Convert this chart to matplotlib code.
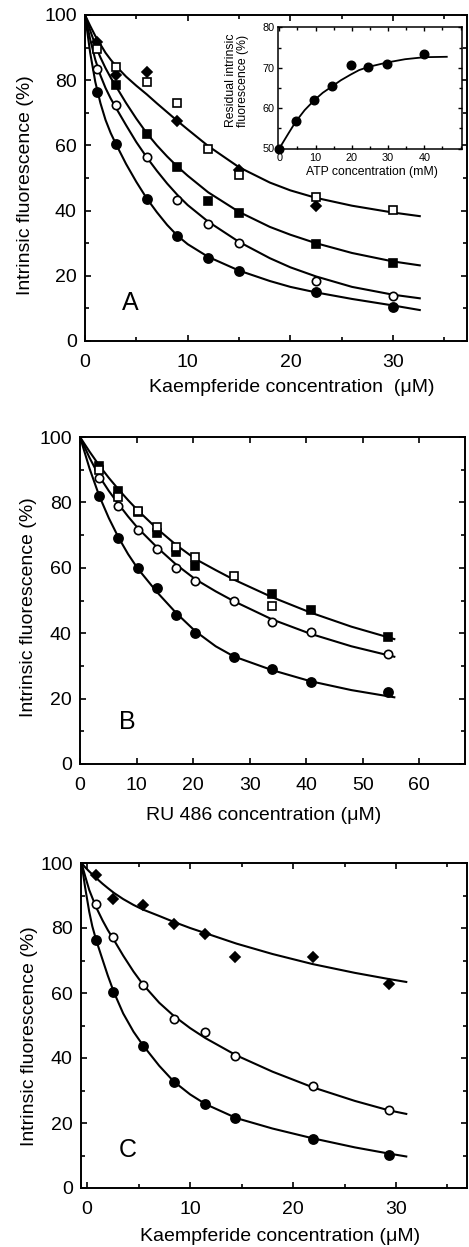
import matplotlib
matplotlib.use("Agg")
import matplotlib.pyplot as plt
from matplotlib.ticker import MultipleLocator

plt.rcParams['font.family'] = ['Liberation Sans', 'DejaVu Sans']

# ---------------- Panel A data ----------------
a_x = [1.2, 3, 6, 9, 12, 15, 22.5, 30]
a_filled_circle = [76.3, 60.4, 43.7, 32.1, 25.5, 21.5, 15.0, 10.4]
a_open_circle = [83.4, 72.5, 56.5, 43.4, 36.0, 30.2, 18.5, 13.8]
a_fs_x = [3, 6, 9, 12, 15, 22.5, 30]
a_filled_square = [78.5, 63.5, 53.4, 43.0, 39.3, 29.9, 23.8]
a_open_square = [89.6, 83.9, 79.6, 72.9, 58.9, 50.8, 44.3, 40.1]
a_dm_x = [1.2, 3, 6, 9, 15, 22.5]
a_diamond = [91.6, 81.7, 82.4, 67.4, 52.5, 41.4]

a_fit_x = [0, 0.5, 1, 1.5, 2, 2.5, 3, 4, 5, 6, 7, 8, 9, 10, 12, 15, 18, 20, 22.5, 26, 30, 32.6]
a_fit_top = [100, 96.7, 93.6, 91.0, 88.4, 86.3, 84.4, 81.1, 78.3, 75.7, 72.9, 70.2, 67.5, 64.9, 59.8, 53.3, 48.6, 46.2, 43.9, 41.5, 39.4, 38.3]
a_fit_fs = [100, 95.3, 90.8, 87.0, 83.7, 80.8, 78.2, 73.0, 68.2, 63.8, 60.0, 56.6, 53.5, 50.7, 45.6, 39.6, 35.0, 32.6, 30.0, 27.0, 24.4, 23.2]
a_fit_oc = [100, 92.6, 86.3, 81.5, 77.6, 74.4, 71.6, 66.2, 61.0, 56.4, 52.2, 48.3, 44.8, 41.7, 36.6, 30.4, 25.4, 22.6, 19.8, 16.6, 14.2, 13.1]
a_fit_fc = [100, 88.5, 79.5, 73.0, 67.8, 63.8, 60.5, 54.3, 48.8, 43.8, 39.5, 35.6, 32.3, 29.7, 25.8, 21.6, 18.4, 16.6, 14.9, 12.9, 10.9, 9.5]

# ---------------- Inset data ----------------
ins_x = [0, 4.5, 9.7, 14.6, 19.7, 24.6, 29.8, 40]
ins_y = [50, 56.7, 62.1, 65.4, 70.7, 70.1, 70.8, 73.3]
ins_fit_x = [0, 2.5, 4.5, 7, 9.7, 12, 14.6, 17, 19.7, 22, 24.6, 29.8, 34.7, 40, 46.2]
ins_fit_y = [50, 53.7, 56.6, 59.5, 62.0, 63.8, 65.4, 66.9, 68.3, 69.4, 70.2, 71.3, 72.1, 72.6, 72.7]

# ---------------- Panel B data ----------------
b_x = [3.4, 6.8, 10.2, 13.6, 17, 20.4, 27.2, 34, 40.8, 54.4]
b_filled_circle = [82.0, 69.0, 59.8, 53.8, 45.7, 40.1, 32.6, 29.1, 25.0, 22.0]
b_open_circle = [87.6, 78.9, 71.7, 65.8, 60.0, 56.0, 49.8, 43.3, 40.4, 33.5]
b_fs_x = [3.4, 6.8, 10.2, 13.6, 17, 20.4, 34, 40.8, 54.4]
b_filled_square = [91.1, 83.5, 77.0, 70.6, 64.7, 60.6, 52.0, 47.1, 38.9]
b_os_x = [3.4, 6.8, 10.2, 13.6, 17, 20.4, 27.2, 34]
b_open_square = [89.9, 81.7, 77.3, 72.6, 66.3, 63.3, 57.6, 48.4]

b_fit_x = [0, 1.7, 3.4, 5.1, 6.8, 8.5, 10.2, 13.6, 17, 20.4, 24, 27.2, 34, 40.8, 48, 55.6]
b_fit_top = [100, 95.5, 91.3, 87.5, 84.0, 80.7, 77.6, 72.0, 67.0, 62.7, 59.3, 56.4, 51.0, 46.3, 42.0, 38.2]
b_fit_mid = [100, 93.6, 88.0, 83.5, 79.5, 75.7, 72.2, 66.3, 61.0, 56.5, 52.8, 49.8, 44.2, 39.8, 36.0, 32.8]
b_fit_bot = [100, 90.3, 82.0, 75.2, 69.3, 64.2, 59.8, 52.6, 46.2, 40.6, 36.0, 32.9, 28.7, 25.3, 22.6, 20.4]

# ---------------- Panel C data ----------------
c_x = [0.9, 2.5, 5.4, 8.4, 11.4, 14.4, 21.9, 29.3]
c_diamond = [96.3, 88.9, 87.1, 81.3, 78.1, 71.2, 71.0, 62.7]
c_open_circle = [87.4, 77.1, 62.5, 52.1, 48.0, 40.7, 31.5, 23.9]
c_filled_circle = [76.4, 60.3, 43.8, 32.5, 25.7, 21.6, 15.1, 10.1]

c_fit_x = [-0.55, -0.2, 0.2, 0.5, 0.9, 1.5, 2, 2.6, 3.5, 4.5, 5.4, 7, 8.4, 10, 11.5, 14.5, 18, 21.9, 26, 29.3, 31]
c_fit_top = [100, 98.7, 97.4, 96.5, 95.3, 93.6, 92.3, 90.8, 88.9, 87.1, 85.7, 83.7, 81.9, 80.0, 78.4, 75.2, 72.0, 68.9, 66.2, 64.3, 63.4]
c_fit_mid = [100, 96.0, 91.7, 89.3, 86.2, 82.3, 79.4, 76.3, 71.5, 66.6, 62.7, 57.0, 53.0, 49.2, 46.1, 40.8, 35.8, 31.0, 26.8, 23.9, 22.8]
c_fit_bot = [100, 92.5, 85.0, 80.5, 76.0, 70.2, 65.4, 60.2, 53.7, 48.1, 44.0, 37.6, 32.8, 28.8, 25.8, 21.5, 18.3, 15.3, 12.5, 10.6, 9.7]

y_ticks = [0, 20, 40, 60, 80, 100]
ylab = "Intrinsic fluorescence (%)"

LW = 1.5
FS = 14

fig = plt.figure(figsize=(4.69, 12.47), dpi=100)
W, H = 469.0, 1247.0


def axes_px(l, r, t, b):
    return fig.add_axes([l / W, 1 - b / H, (r - l) / W, (b - t) / H])


def style(ax, xmaj, xmin_loc):
    ax.set_ylim(0, 100)
    ax.set_yticks(y_ticks)
    ax.yaxis.set_minor_locator(MultipleLocator(10))
    ax.xaxis.set_major_locator(MultipleLocator(xmaj))
    if xmin_loc:
        ax.xaxis.set_minor_locator(MultipleLocator(xmin_loc))
    ax.tick_params(which='both', direction='in', top=True, right=True, width=1.2)
    ax.tick_params(which='major', length=4.5, labelsize=FS)
    ax.tick_params(which='minor', length=3)
    ax.tick_params(axis='x', which='major', pad=9.5)
    ax.tick_params(axis='y', which='major', pad=6)
    for s in ax.spines.values():
        s.set_linewidth(1.4)


def mk(ax, x, y, marker, filled, ms, z=3):
    ax.plot(x, y, linestyle='none', marker=marker, ms=ms,
            mfc='black' if filled else 'white', mec='black', mew=1.2, zorder=z)


# ---------------- Panel A ----------------
axA = axes_px(85, 467, 15, 341)
for yv in (a_fit_top, a_fit_fs, a_fit_oc, a_fit_fc):
    axA.plot(a_fit_x, yv, color='black', lw=LW, zorder=2)
mk(axA, a_dm_x, a_diamond, 'D', True, 5.6)
mk(axA, a_x, a_open_square, 's', False, 6.0, 4)
mk(axA, a_fs_x, a_filled_square, 's', True, 6.0)
mk(axA, a_x, a_open_circle, 'o', False, 6.0)
mk(axA, a_x, a_filled_circle, 'o', True, 6.6)
axA.set_xlim(0, 37.2)
axA.set_xticks([0, 10, 20, 30])
style(axA, 10, 5)
axA.set_xlabel("Kaempferide concentration  (μM)", fontsize=FS)
axA.set_ylabel(ylab, fontsize=FS)
axA.xaxis.set_label_coords(0.54, -0.144)
axA.xaxis.label.set_va('center')
axA.yaxis.set_label_coords(-0.1545, 0.479)
axA.yaxis.label.set_va('center')
axA.text(0.118, 0.117, "A", transform=axA.transAxes, fontsize=18, ha='center', va='center')

# inset
axI = axes_px(277.7, 462, 27.3, 148.5)
axI.plot(ins_fit_x, ins_fit_y, color='black', lw=1.3)
axI.plot(ins_x, ins_y, linestyle='none', marker='o', ms=6.2, color='black', zorder=3, clip_on=False)
axI.set_xlim(-0.44, 50.4)
axI.set_ylim(50, 80)
axI.set_xticks([0, 10, 20, 30, 40])
axI.xaxis.set_minor_locator(MultipleLocator(5))
axI.set_yticks([50, 60, 70, 80])
axI.yaxis.set_minor_locator(MultipleLocator(5))
axI.tick_params(which='both', direction='in', top=True, right=True, width=1.0)
axI.tick_params(which='major', length=3, labelsize=7.8)
axI.tick_params(which='minor', length=2)
axI.tick_params(axis='x', which='major', pad=3.5)
axI.tick_params(axis='y', which='major', pad=2.5)
for s in axI.spines.values():
    s.set_linewidth(1.1)
axI.set_xlabel("ATP concentration (mM)", fontsize=8.8)
axI.set_ylabel("Residual intrinsic\nfluorescence (%)", fontsize=8.8, linespacing=1.0)
axI.xaxis.set_label_coords(0.51, -0.19)
axI.xaxis.label.set_va('center')
axI.yaxis.set_label_coords(-0.222, 0.56)
axI.yaxis.label.set_va('center')

# ---------------- Panel B ----------------
axB = axes_px(80, 465, 437, 764)
for yv in (b_fit_top, b_fit_mid, b_fit_bot):
    axB.plot(b_fit_x, yv, color='black', lw=LW, zorder=2)
mk(axB, b_fs_x, b_filled_square, 's', True, 6.0)
mk(axB, b_os_x, b_open_square, 's', False, 6.0, 4)
mk(axB, b_x, b_open_circle, 'o', False, 6.0)
mk(axB, b_x, b_filled_circle, 'o', True, 6.6)
axB.set_xlim(0, 68.1)
style(axB, 10, None)
axB.set_xlabel("RU 486 concentration (μM)", fontsize=FS)
axB.set_ylabel(ylab, fontsize=FS)
axB.xaxis.set_label_coords(0.478, -0.159)
axB.xaxis.label.set_va('center')
axB.yaxis.set_label_coords(-0.1325, 0.481)
axB.yaxis.label.set_va('center')
axB.text(0.122, 0.128, "B", transform=axB.transAxes, fontsize=18, ha='center', va='center')

# ---------------- Panel C ----------------
axC = axes_px(81, 467, 863, 1188)
for yv in (c_fit_top, c_fit_mid, c_fit_bot):
    axC.plot(c_fit_x, yv, color='black', lw=LW, zorder=2)
mk(axC, c_x, c_diamond, 'D', True, 5.6)
mk(axC, c_x, c_open_circle, 'o', False, 6.0)
mk(axC, c_x, c_filled_circle, 'o', True, 6.6)
axC.set_xlim(-0.6, 36.9)
axC.set_xticks([0, 10, 20, 30])
style(axC, 10, 5)
axC.set_xlabel("Kaempferide concentration (μM)", fontsize=FS)
axC.set_ylabel(ylab, fontsize=FS)
axC.xaxis.set_label_coords(0.516, -0.150)
axC.xaxis.label.set_va('center')
axC.yaxis.set_label_coords(-0.1347, 0.468)
axC.yaxis.label.set_va('center')
axC.text(0.120, 0.118, "C", transform=axC.transAxes, fontsize=18, ha='center', va='center')

fig.savefig("out.png", dpi=100)
